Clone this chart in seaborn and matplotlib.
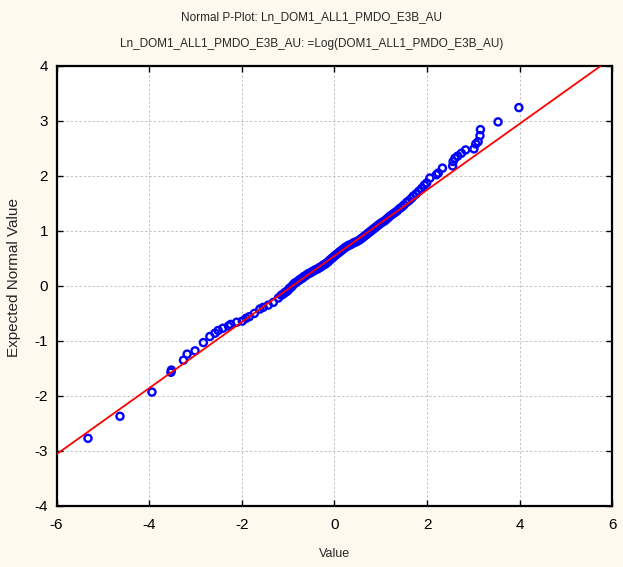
import matplotlib
matplotlib.use("Agg")
import matplotlib.pyplot as plt
import seaborn as sns
import pandas as pd

# sorted values (x) and expected normal values (y)
value = [-5.32, -4.63, -3.94, -3.53, -3.52, -3.26, -3.18, -3.01, -2.83, -2.69,
         -2.58, -2.51, -2.41, -2.29, -2.24, -2.11, -1.99, -1.91, -1.84, -1.73,
         -1.61, -1.54, -1.43, -1.32, -1.21,
         -1.15, -1.11, -1.08, -1.05, -1.03, -1.00, -0.98, -0.95, -0.93, -0.90,
         -0.88, -0.86, -0.83, -0.80, -0.77, -0.74, -0.71, -0.68, -0.66, -0.63,
         -0.60, -0.57, -0.54, -0.51, -0.48, -0.45, -0.42, -0.39, -0.36, -0.33,
         -0.30, -0.27, -0.24, -0.21, -0.18, -0.15, -0.12, -0.10, -0.07, -0.04,
         -0.02, 0.01, 0.04, 0.07, 0.10, 0.13, 0.16, 0.19, 0.22, 0.25,
         0.28, 0.31, 0.35, 0.39, 0.43, 0.47, 0.51, 0.55, 0.58, 0.61,
         0.64, 0.67, 0.70, 0.73, 0.76, 0.79, 0.82, 0.85, 0.88, 0.91,
         0.94, 0.97, 1.00, 1.04, 1.08, 1.12, 1.16, 1.20, 1.25, 1.30,
         1.35, 1.40, 1.45, 1.50, 1.56, 1.61, 1.66, 1.70, 1.76, 1.82,
         1.88, 1.94, 1.99,
         2.06, 2.20, 2.24, 2.33, 2.55, 2.56, 2.60, 2.66, 2.74, 2.83,
         3.01, 3.05, 3.10, 3.14, 3.15, 3.53, 3.98]
expected = [-2.77, -2.37, -1.93, -1.57, -1.53, -1.35, -1.24, -1.18, -1.03, -0.92,
            -0.86, -0.81, -0.77, -0.73, -0.70, -0.66, -0.64, -0.59, -0.56, -0.50,
            -0.42, -0.39, -0.35, -0.30, -0.22,
            -0.17, -0.15, -0.13, -0.11, -0.10, -0.08, -0.05, -0.03, -0.02, 0.01,
            0.03, 0.05, 0.06, 0.08, 0.10, 0.12, 0.13, 0.15, 0.17, 0.18,
            0.20, 0.22, 0.23, 0.24, 0.26, 0.27, 0.29, 0.30, 0.31, 0.33,
            0.34, 0.36, 0.38, 0.39, 0.41, 0.43, 0.45, 0.47, 0.49, 0.51,
            0.53, 0.55, 0.57, 0.59, 0.61, 0.63, 0.65, 0.67, 0.69, 0.71,
            0.72, 0.74, 0.75, 0.77, 0.79, 0.80, 0.82, 0.84, 0.86, 0.88,
            0.90, 0.92, 0.94, 0.96, 0.98, 1.00, 1.02, 1.04, 1.06, 1.08,
            1.10, 1.12, 1.14, 1.16, 1.18, 1.21, 1.24, 1.27, 1.30, 1.33,
            1.36, 1.40, 1.43, 1.47, 1.52, 1.55, 1.59, 1.63, 1.67, 1.72,
            1.77, 1.83, 1.87,
            1.96, 2.02, 2.05, 2.14, 2.18, 2.26, 2.32, 2.36, 2.41, 2.47,
            2.49, 2.58, 2.62, 2.73, 2.84, 2.98, 3.24]

# reference line end points
line_x = [-6.0, 6.0]
line_y = [-3.06, 4.15]

xticks = [-6, -4, -2, 0, 2, 4, 6]
yticks = [-4, -3, -2, -1, 0, 1, 2, 3, 4]

title1 = "Normal P-Plot: Ln_DOM1_ALL1_PMDO_E3B_AU"
title2 = "Ln_DOM1_ALL1_PMDO_E3B_AU: =Log(DOM1_ALL1_PMDO_E3B_AU)"

df = pd.DataFrame({"Value": value, "Expected": expected})
line_df = pd.DataFrame({"x": line_x, "y": line_y})

sns.set_style("ticks")
plt.rcParams["font.family"] = ["Liberation Sans", "DejaVu Sans"]
plt.rcParams["axes.unicode_minus"] = False

bg = "#FDF9EE"
fig = plt.figure(figsize=(6.23, 5.67), dpi=100, facecolor=bg)
ax = fig.add_axes([0.0907, 0.1076, 0.8924, 0.7764])
ax.set_facecolor("white")

sns.scatterplot(data=df, x="Value", y="Expected", ax=ax, marker="o", s=26,
                color="#0000FF", facecolors="none", edgecolors="#0000FF",
                linewidth=1.7, zorder=3)
sns.lineplot(data=line_df, x="x", y="y", ax=ax, color="#FF0000",
             linewidth=1.3, zorder=4)

ax.set_xlim(-6, 6)
ax.set_ylim(-4, 4)
ax.set_xticks(xticks)
ax.set_yticks(yticks)
ax.grid(True, linestyle=(0, (2.5, 2)), color="#C4C4C4", linewidth=0.7, zorder=0)
ax.set_axisbelow(True)

for sp in ax.spines.values():
    sp.set_visible(True)
    sp.set_linewidth(1.6)
    sp.set_color("black")
ax.tick_params(direction="in", length=4, width=1, top=True, right=True,
               labelsize=11, colors="black")
ax.tick_params(axis="x", pad=9)
ax.tick_params(axis="y", pad=6)

ax.set_xlabel("Value", fontsize=9, labelpad=11)
ax.set_ylabel("Expected Normal Value", fontsize=11)
ax.yaxis.set_label_coords(-0.064, 0.52)

fig.text(0.5, 0.97, title1, ha="center", va="center", fontsize=8.5)
fig.text(0.5, 0.922, title2, ha="center", va="center", fontsize=8.5)

fig.savefig("out.png", dpi=100, facecolor=bg)
